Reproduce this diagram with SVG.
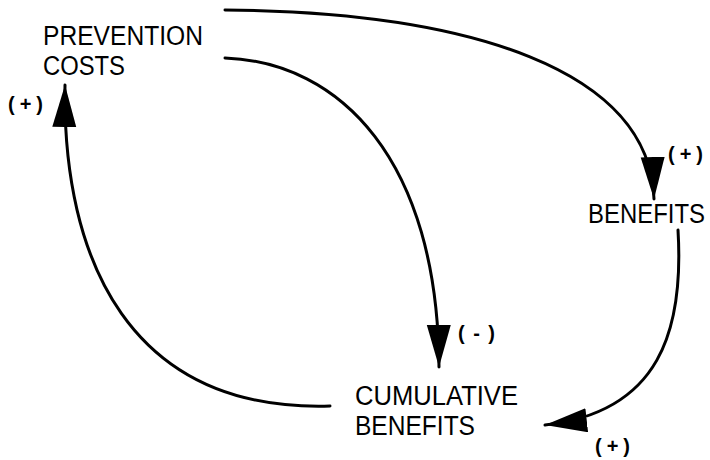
<svg xmlns="http://www.w3.org/2000/svg" width="710" height="460" viewBox="0 0 710 460">
<style>
.lbl{font-family:"Liberation Sans",Arial,sans-serif;font-size:27px;fill:#000}
.sg{font-family:"Liberation Sans",Arial,sans-serif;font-size:20px;font-weight:bold;fill:#000}
.c{fill:none;stroke:#000;stroke-width:3;stroke-linecap:round}
</style>
<defs>
<marker id="ah" markerUnits="userSpaceOnUse" markerWidth="44" markerHeight="26" refX="42" refY="12" orient="auto">
<path d="M0,0 L42,12 L0,24 Z" fill="#000"/>
</marker>
</defs>
<rect width="710" height="460" fill="#fff"/>
<g id="connectors">
<path class="c" d="M225,10 C470,12 650,70 654,199" marker-end="url(#ah)"/>
<path class="c" d="M225,58 C340,62 438,160 439,367" marker-end="url(#ah)"/>
<path class="c" d="M678,230 C684,330 660,412 545,425" marker-end="url(#ah)"/>
<path class="c" d="M330,406 C130,412 62,260 65,85" marker-end="url(#ah)"/>
</g>
<g id="prevention-costs">
<text class="lbl" x="43" y="45" textLength="160" lengthAdjust="spacingAndGlyphs">PREVENTION</text>
<text class="lbl" x="43" y="75" textLength="82" lengthAdjust="spacingAndGlyphs">COSTS</text>
</g>
<g id="benefits">
<text class="lbl" x="588" y="223" textLength="117" lengthAdjust="spacingAndGlyphs">BENEFITS</text>
</g>
<g id="cumulative-benefits">
<text class="lbl" x="355" y="405" textLength="163" lengthAdjust="spacingAndGlyphs">CUMULATIVE</text>
<text class="lbl" x="355" y="435" textLength="120" lengthAdjust="spacingAndGlyphs">BENEFITS</text>
</g>
<g id="signs">
<text class="sg" x="8" y="111" textLength="35" lengthAdjust="spacing">(+)</text>
<text class="sg" x="668" y="161" textLength="35" lengthAdjust="spacing">(+)</text>
<text class="sg" x="458" y="340" textLength="37" lengthAdjust="spacing">(-)</text>
<text class="sg" x="595" y="453" textLength="35" lengthAdjust="spacing">(+)</text>
</g>
</svg>
